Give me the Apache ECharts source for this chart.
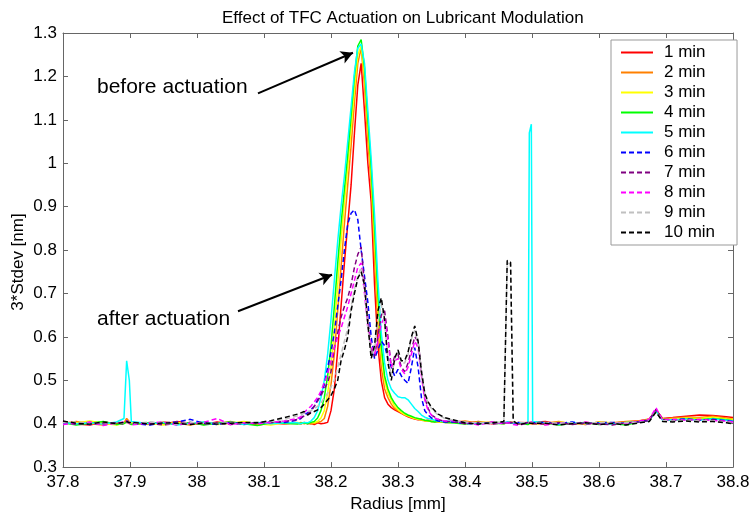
<!DOCTYPE html>
<html>
<head>
<meta charset="utf-8">
<script src="https://cdn.jsdelivr.net/npm/echarts@6/dist/echarts.min.js"></script>
<style>
  html, body { margin: 0; padding: 0; background: #ffffff; }
  #chart { width: 755px; height: 518px; }
</style>
</head>
<body>
<div id="chart"></div>
<script>
// Radial positions (mm) shared by every scan: coarse on the flat parts,
// fine across the lubricant ridge, with extra samples at the narrow spikes.
const radius = [
  37.80, 37.82, 37.84, 37.86, 37.88, 37.891, 37.895, 37.899, 37.902, 37.93,
  37.95, 37.97, 37.99, 38.01, 38.03, 38.05, 38.07, 38.09, 38.11, 38.13,
  38.150, 38.155, 38.160, 38.165, 38.170, 38.175, 38.180, 38.185, 38.190, 38.195,
  38.200, 38.205, 38.210, 38.215, 38.220, 38.225, 38.230, 38.235, 38.240, 38.245,
  38.250, 38.255, 38.260, 38.265, 38.270, 38.275, 38.280, 38.285, 38.290, 38.295,
  38.300, 38.305, 38.310, 38.315, 38.320, 38.325, 38.330, 38.335, 38.340, 38.345,
  38.350, 38.355, 38.360, 38.370,
  38.38, 38.40, 38.42, 38.44, 38.458, 38.463, 38.468, 38.472, 38.48, 38.494,
  38.496, 38.499, 38.501, 38.52, 38.54, 38.56, 38.58, 38.60, 38.62, 38.64,
  38.66, 38.675, 38.685, 38.695, 38.71, 38.73, 38.75, 38.77, 38.79, 38.80
];

// 3*Stdev (nm) per scan, one array per elapsed time
const min1 = [
  0.404, 0.399, 0.397, 0.404, 0.400, 0.402, 0.405, 0.401, 0.399, 0.402,
  0.399, 0.405, 0.401, 0.398, 0.404, 0.400, 0.403, 0.397, 0.401, 0.400,
  0.402, 0.399, 0.403, 0.400, 0.401, 0.398, 0.402, 0.400, 0.401, 0.403,
  0.430, 0.480, 0.570, 0.670, 0.770, 0.860, 0.950, 1.070, 1.180, 1.230,
  1.120, 1.000, 0.910, 0.720, 0.580, 0.500, 0.460, 0.445, 0.437, 0.432,
  0.428, 0.424, 0.420, 0.416, 0.413, 0.411, 0.409, 0.410, 0.407, 0.408,
  0.405, 0.406, 0.404, 0.405,
  0.404, 0.401, 0.405, 0.400, 0.403, 0.402, 0.404, 0.401, 0.403, 0.402,
  0.400, 0.403, 0.401, 0.405, 0.399, 0.402, 0.398, 0.404, 0.401, 0.404,
  0.406, 0.410, 0.432, 0.412, 0.414, 0.417, 0.420, 0.419, 0.416, 0.414
];
const min2 = [
  0.401, 0.405, 0.400, 0.397, 0.403, 0.402, 0.412, 0.405, 0.401, 0.398,
  0.404, 0.401, 0.397, 0.403, 0.400, 0.405, 0.398, 0.401, 0.403, 0.400,
  0.401, 0.403, 0.400, 0.402, 0.399, 0.401, 0.403, 0.405, 0.412, 0.440,
  0.490, 0.560, 0.660, 0.760, 0.860, 0.950, 1.040, 1.140, 1.230, 1.265,
  1.180, 1.050, 0.950, 0.780, 0.630, 0.530, 0.480, 0.460, 0.445, 0.435,
  0.430, 0.425, 0.420, 0.417, 0.414, 0.412, 0.410, 0.408, 0.407, 0.406,
  0.405, 0.404, 0.405, 0.403,
  0.403, 0.406, 0.401, 0.404, 0.400, 0.403, 0.402, 0.404, 0.401, 0.403,
  0.402, 0.399, 0.403, 0.401, 0.405, 0.399, 0.403, 0.401, 0.402, 0.405,
  0.407, 0.411, 0.430, 0.410, 0.413, 0.415, 0.414, 0.417, 0.413, 0.411
];
const min3 = [
  0.399, 0.402, 0.406, 0.401, 0.397, 0.401, 0.403, 0.400, 0.403, 0.401,
  0.397, 0.403, 0.400, 0.404, 0.398, 0.401, 0.405, 0.400, 0.397, 0.402,
  0.403, 0.400, 0.402, 0.401, 0.403, 0.402, 0.405, 0.413, 0.430, 0.470,
  0.530, 0.620, 0.720, 0.820, 0.910, 0.990, 1.080, 1.170, 1.250, 1.270,
  1.200, 1.080, 0.970, 0.820, 0.670, 0.560, 0.500, 0.470, 0.455, 0.440,
  0.432, 0.426, 0.421, 0.418, 0.415, 0.412, 0.410, 0.409, 0.407, 0.406,
  0.405, 0.406, 0.404, 0.404,
  0.405, 0.400, 0.404, 0.402, 0.403, 0.401, 0.403, 0.402, 0.399, 0.402,
  0.403, 0.401, 0.402, 0.398, 0.404, 0.401, 0.399, 0.404, 0.402, 0.403,
  0.405, 0.409, 0.428, 0.411, 0.410, 0.413, 0.412, 0.415, 0.411, 0.410
];
const min4 = [
  0.402, 0.397, 0.401, 0.405, 0.398, 0.400, 0.404, 0.402, 0.398, 0.403,
  0.401, 0.398, 0.403, 0.397, 0.401, 0.404, 0.400, 0.396, 0.402, 0.401,
  0.399, 0.401, 0.402, 0.400, 0.403, 0.405, 0.413, 0.430, 0.460, 0.510,
  0.580, 0.670, 0.770, 0.860, 0.940, 1.020, 1.110, 1.200, 1.270, 1.285,
  1.220, 1.100, 0.990, 0.850, 0.700, 0.580, 0.510, 0.480, 0.460, 0.447,
  0.437, 0.430, 0.424, 0.420, 0.417, 0.414, 0.412, 0.410, 0.408, 0.407,
  0.405, 0.404, 0.406, 0.403,
  0.402, 0.399, 0.403, 0.401, 0.400, 0.402, 0.401, 0.403, 0.401, 0.398,
  0.401, 0.403, 0.400, 0.402, 0.397, 0.401, 0.403, 0.398, 0.401, 0.397,
  0.404, 0.408, 0.430, 0.409, 0.408, 0.411, 0.409, 0.412, 0.409, 0.407
];
const min5 = [
  0.403, 0.400, 0.402, 0.399, 0.404, 0.412, 0.545, 0.500, 0.405, 0.400,
  0.403, 0.397, 0.401, 0.404, 0.400, 0.402, 0.398, 0.403, 0.400, 0.402,
  0.402, 0.400, 0.403, 0.402, 0.406, 0.414, 0.430, 0.460, 0.500, 0.560,
  0.640, 0.730, 0.820, 0.900, 0.970, 1.050, 1.130, 1.210, 1.265, 1.275,
  1.230, 1.120, 1.010, 0.880, 0.730, 0.610, 0.540, 0.500, 0.480, 0.470,
  0.462, 0.460, 0.460, 0.455, 0.445, 0.435, 0.428, 0.420, 0.415, 0.412,
  0.410, 0.408, 0.406, 0.405,
  0.406, 0.403, 0.400, 0.403, 0.402, 0.404, 0.403, 0.401, 0.402, 0.403,
  1.070, 1.090, 0.405, 0.402, 0.399, 0.403, 0.401, 0.402, 0.399, 0.403,
  0.404, 0.407, 0.429, 0.408, 0.409, 0.410, 0.408, 0.411, 0.408, 0.406
];
const min6 = [
  0.400, 0.403, 0.398, 0.402, 0.401, 0.403, 0.407, 0.402, 0.400, 0.397,
  0.402, 0.404, 0.410, 0.401, 0.398, 0.403, 0.400, 0.402, 0.404, 0.403,
  0.408, 0.412, 0.420, 0.425, 0.432, 0.440, 0.455, 0.470, 0.490, 0.530,
  0.565, 0.610, 0.670, 0.730, 0.800, 0.860, 0.885, 0.893, 0.870, 0.800,
  0.740, 0.680, 0.600, 0.550, 0.570, 0.590, 0.580, 0.550, 0.530, 0.510,
  0.525, 0.510, 0.500, 0.493, 0.530, 0.575, 0.530, 0.460, 0.430, 0.420,
  0.413, 0.410, 0.406, 0.404,
  0.404, 0.401, 0.399, 0.403, 0.401, 0.403, 0.402, 0.400, 0.403, 0.401,
  0.403, 0.402, 0.401, 0.403, 0.400, 0.404, 0.399, 0.402, 0.403, 0.400,
  0.405, 0.409, 0.431, 0.410, 0.409, 0.411, 0.408, 0.410, 0.407, 0.405
];
const min7 = [
  0.405, 0.398, 0.403, 0.400, 0.402, 0.399, 0.404, 0.401, 0.403, 0.400,
  0.397, 0.401, 0.403, 0.399, 0.402, 0.398, 0.401, 0.403, 0.402, 0.405,
  0.410, 0.413, 0.418, 0.422, 0.428, 0.440, 0.452, 0.465, 0.480, 0.495,
  0.520, 0.575, 0.610, 0.645, 0.670, 0.690, 0.720, 0.760, 0.790, 0.807,
  0.720, 0.640, 0.570, 0.555, 0.600, 0.650, 0.660, 0.600, 0.530, 0.555,
  0.560, 0.530, 0.520, 0.540, 0.570, 0.600, 0.590, 0.520, 0.460, 0.435,
  0.420, 0.415, 0.410, 0.405,
  0.405, 0.400, 0.403, 0.399, 0.402, 0.401, 0.403, 0.402, 0.399, 0.403,
  0.401, 0.400, 0.402, 0.399, 0.403, 0.398, 0.402, 0.400, 0.397, 0.402,
  0.404, 0.407, 0.433, 0.409, 0.407, 0.409, 0.407, 0.409, 0.405, 0.403
];
const min8 = [
  0.398, 0.401, 0.404, 0.396, 0.401, 0.404, 0.406, 0.400, 0.397, 0.402,
  0.404, 0.397, 0.401, 0.403, 0.412, 0.398, 0.402, 0.400, 0.403, 0.406,
  0.412, 0.416, 0.425, 0.434, 0.440, 0.450, 0.460, 0.475, 0.495, 0.515,
  0.545, 0.575, 0.600, 0.620, 0.645, 0.670, 0.700, 0.730, 0.760, 0.770,
  0.700, 0.620, 0.580, 0.560, 0.590, 0.630, 0.645, 0.590, 0.530, 0.545,
  0.550, 0.525, 0.515, 0.530, 0.560, 0.590, 0.575, 0.510, 0.455, 0.430,
  0.420, 0.413, 0.410, 0.406,
  0.407, 0.403, 0.397, 0.404, 0.400, 0.402, 0.401, 0.398, 0.396, 0.402,
  0.400, 0.404, 0.401, 0.397, 0.402, 0.400, 0.404, 0.398, 0.402, 0.400,
  0.406, 0.410, 0.437, 0.408, 0.410, 0.408, 0.410, 0.407, 0.406, 0.404
];
const min9 = [
  0.402, 0.404, 0.400, 0.403, 0.399, 0.402, 0.401, 0.403, 0.400, 0.404,
  0.401, 0.399, 0.403, 0.401, 0.400, 0.403, 0.401, 0.404, 0.405, 0.410,
  0.418, 0.420, 0.425, 0.428, 0.430, 0.435, 0.440, 0.448, 0.460, 0.470,
  0.485, 0.500, 0.530, 0.560, 0.590, 0.620, 0.670, 0.710, 0.740, 0.760,
  0.710, 0.620, 0.560, 0.570, 0.640, 0.675, 0.630, 0.550, 0.510, 0.545,
  0.565, 0.540, 0.540, 0.560, 0.595, 0.615, 0.585, 0.520, 0.470, 0.447,
  0.435, 0.427, 0.420, 0.412,
  0.409, 0.404, 0.402, 0.401, 0.404, 0.770, 0.768, 0.404, 0.401, 0.403,
  0.401, 0.402, 0.400, 0.403, 0.401, 0.402, 0.400, 0.403, 0.401, 0.402,
  0.403, 0.406, 0.428, 0.407, 0.406, 0.408, 0.406, 0.407, 0.404, 0.402
];
const min10 = [
  0.406, 0.401, 0.399, 0.404, 0.400, 0.403, 0.405, 0.402, 0.403, 0.399,
  0.402, 0.401, 0.398, 0.402, 0.399, 0.401, 0.403, 0.402, 0.407, 0.414,
  0.422, 0.425, 0.428, 0.420, 0.425, 0.428, 0.432, 0.437, 0.445, 0.455,
  0.465, 0.480, 0.500, 0.545, 0.570, 0.600, 0.660, 0.700, 0.735, 0.750,
  0.720, 0.630, 0.550, 0.580, 0.660, 0.690, 0.640, 0.540, 0.500, 0.550,
  0.570, 0.545, 0.545, 0.565, 0.600, 0.625, 0.590, 0.520, 0.470, 0.450,
  0.438, 0.430, 0.422, 0.414,
  0.410, 0.402, 0.399, 0.402, 0.405, 0.776, 0.772, 0.406, 0.398, 0.402,
  0.400, 0.401, 0.399, 0.401, 0.397, 0.400, 0.402, 0.398, 0.401, 0.397,
  0.402, 0.405, 0.427, 0.405, 0.404, 0.406, 0.404, 0.405, 0.402, 0.400
];

const scanNames = ['1 min', '2 min', '3 min', '4 min', '5 min',
                   '6 min', '7 min', '8 min', '9 min', '10 min'];
const scanValues = [min1, min2, min3, min4, min5, min6, min7, min8, min9, min10];
const scanColors = ['#ff0000', '#ff8000', '#ffff00', '#00ff00', '#00ffff',
                    '#0000ff', '#800080', '#ff00ff', '#c0c0c0', '#000000'];
const scanDashed = [false, false, false, false, false, true, true, true, true, true];

// Callout arrows, in data units: [fromRadius, fromValue, toRadius, toValue]
const beforeArrow = [38.091, 1.161, 38.2328, 1.2545];
const afterArrow = [38.0612, 0.659, 38.2015, 0.7432];

const FONT = '"Liberation Sans", Arial, Helvetica, sans-serif';
const AXIS_COLOR = '#666666';

const chart = echarts.init(document.getElementById('chart'), null, { renderer: 'canvas' });

const series = scanValues.map((vals, i) => ({
  name: scanNames[i],
  type: 'line',
  xAxisIndex: 0,
  yAxisIndex: 0,
  data: radius.map((r, j) => [r, vals[j]]),
  symbol: 'none',
  showSymbol: false,
  smooth: false,
  silent: true,
  lineStyle: {
    color: scanColors[i],
    width: 1.5,
    type: scanDashed[i] ? [5, 3] : 'solid'
  },
  itemStyle: { color: scanColors[i] },
  z: 2 + i
}));

series[series.length - 1].markLine = {
  silent: true,
  symbol: ['none', 'arrow'],
  symbolSize: [10, 12],
  label: { show: false },
  lineStyle: { color: '#000000', width: 2, type: 'solid' },
  data: [
    [{ coord: [beforeArrow[0], beforeArrow[1]] }, { coord: [beforeArrow[2], beforeArrow[3]] }],
    [{ coord: [afterArrow[0], afterArrow[1]] }, { coord: [afterArrow[2], afterArrow[3]] }]
  ]
};

function boxAxis(extra) {
  return Object.assign({
    type: 'value',
    axisLine: { show: true, onZero: false, lineStyle: { color: AXIS_COLOR, width: 1 } },
    axisTick: { show: true, inside: true, length: 5, lineStyle: { color: AXIS_COLOR } },
    splitLine: { show: false }
  }, extra);
}

const xRange = { min: 37.8, max: 38.8, interval: 0.1 };
const yRange = { min: 0.3, max: 1.3, interval: 0.1 };

chart.setOption({
  animation: false,
  backgroundColor: '#ffffff',
  title: {
    text: 'Effect of TFC Actuation on Lubricant Modulation',
    left: 217,
    top: 5,
    textStyle: { fontFamily: FONT, fontSize: 17, fontWeight: 'normal', color: '#000000' }
  },
  grid: { left: 63, right: 22, top: 33, bottom: 45, containLabel: false },
  xAxis: [
    boxAxis(Object.assign({
      position: 'bottom',
      name: 'Radius [mm]',
      nameLocation: 'middle',
      nameGap: 24,
      nameTextStyle: { fontFamily: FONT, fontSize: 17, color: '#000000' },
      axisLabel: { fontFamily: FONT, fontSize: 17, color: '#000000', margin: 7 }
    }, xRange)),
    boxAxis(Object.assign({ position: 'top', axisLabel: { show: false } }, xRange))
  ],
  yAxis: [
    boxAxis(Object.assign({
      position: 'left',
      axisLabel: { fontFamily: FONT, fontSize: 17, color: '#000000', margin: 6 }
    }, yRange)),
    boxAxis(Object.assign({ position: 'right', axisLabel: { show: false } }, yRange))
  ],
  legend: {
    orient: 'vertical',
    left: 611,
    top: 40,
    data: scanNames,
    selectedMode: false,
    itemWidth: 32,
    itemHeight: 14,
    itemGap: 3,
    padding: [4, 22, 4, 9],
    backgroundColor: '#ffffff',
    borderColor: '#999999',
    borderWidth: 1,
    itemStyle: { opacity: 0 },
    textStyle: { fontFamily: FONT, fontSize: 17, color: '#000000', lineHeight: 14, padding: [0, 0, 0, 6] }
  },
  graphic: [
    {
      type: 'text', left: 97, top: 77, silent: true,
      style: { text: 'before actuation', fontFamily: FONT, fontSize: 21, fill: '#000000' }
    },
    {
      type: 'text', left: 97, top: 309, silent: true,
      style: { text: 'after actuation', fontFamily: FONT, fontSize: 21, fill: '#000000' }
    },
    {
      type: 'text', x: 18, y: 262, rotation: Math.PI / 2, silent: true,
      style: {
        text: '3*Stdev [nm]', fontFamily: FONT, fontSize: 17, fill: '#000000',
        align: 'center', verticalAlign: 'middle'
      }
    }
  ],
  series: series
});
</script>
</body>
</html>
